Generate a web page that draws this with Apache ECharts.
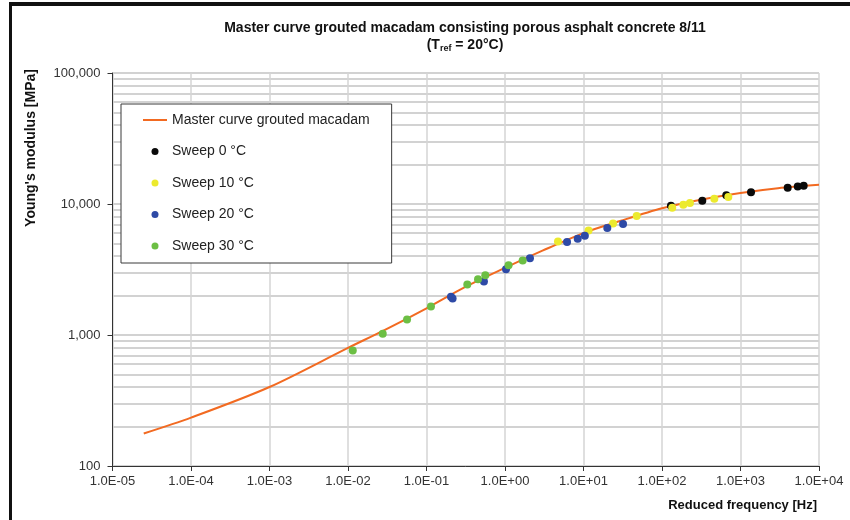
<!DOCTYPE html>
<html>
<head>
<meta charset="utf-8">
<script src="https://cdn.jsdelivr.net/npm/echarts@6/dist/echarts.min.js"></script>
<style>
  html, body { margin: 0; padding: 0; background: #fff; }
  #chart { width: 850px; height: 520px; }
</style>
</head>
<body>
<div id="chart"></div>
<script>
// master curve, reduced frequency [Hz] vs Young's modulus [MPa]
var curveFreq = [2.5e-5, 1e-4, 1e-3, 1e-2, 3e-2, 1e-1, 3e-1, 1, 3, 10, 30, 100, 300, 1000, 3000, 10000];
var curveModulus = [177, 234, 401, 798, 1100, 1600, 2300, 3250, 4400, 6000, 7450, 9270, 10740, 12130, 13190, 14000];

// measured sweeps (shifted to Tref = 20 °C)
var sweep0Freq = [130, 326, 659, 1361, 3990, 5358, 6383];
var sweep0Modulus = [9707, 10590, 11670, 12300, 13280, 13590, 13810];

var sweep10Freq = [4.73, 11.6, 23.8, 47.6, 135, 187, 227, 464, 700];
var sweep10Modulus = [5176, 6281, 7111, 8090, 9377, 9888, 10190, 10990, 11320];

var sweep20Freq = [0.205, 0.215, 0.539, 1.03, 2.08, 6.17, 8.44, 10.4, 20.1, 31.9];
var sweep20Modulus = [1960, 1900, 2559, 3176, 3855, 5117, 5420, 5717, 6546, 7031];

var sweep30Freq = [0.0115, 0.0277, 0.0565, 0.114, 0.331, 0.453, 0.561, 1.11, 1.68];
var sweep30Modulus = [761, 1021, 1315, 1652, 2427, 2661, 2857, 3413, 3707];

var seriesNames = ['Master curve grouted macadam', 'Sweep 0 °C', 'Sweep 10 °C', 'Sweep 20 °C', 'Sweep 30 °C'];

function pairs(xs, ys) {
  return xs.map(function (x, i) { return [x, ys[i]]; });
}

var font = 'Liberation Sans, Arial, sans-serif';
var orange = '#f26a21';

var chart = echarts.init(document.getElementById('chart'));

function scatter(name, xs, ys, color) {
  return {
    name: name,
    type: 'scatter',
    data: pairs(xs, ys),
    symbolSize: 8,
    itemStyle: { color: color, opacity: 1 },
    z: 3
  };
}

var option = {
  animation: false,
  backgroundColor: '#fff',
  title: {
    text: 'Master curve grouted macadam consisting porous asphalt concrete 8/11',
    subtext: '(T{sub|ref} = 20°C)',
    left: 465,
    top: 21,
    textAlign: 'center',
    padding: 0,
    itemGap: 3,
    textStyle: { fontFamily: font, fontSize: 14, fontWeight: 'bold', color: '#111' },
    subtextStyle: {
      fontFamily: font, fontSize: 14, fontWeight: 'bold', color: '#111',
      rich: {
        sub: { fontFamily: font, fontSize: 9, fontWeight: 'bold', color: '#111', padding: [6, 0, 0, 0] }
      }
    }
  },
  legend: {
    orient: 'vertical',
    left: 121,
    top: 104,
    data: [
      { name: seriesNames[0], icon: 'path://M0,0h24v2h-24z', itemStyle: { color: orange } },
      seriesNames[1], seriesNames[2], seriesNames[3], seriesNames[4]
    ],
    itemWidth: 24,
    itemHeight: 7,
    itemGap: 17.5,
    padding: [9, 22, 10, 22],
    backgroundColor: '#fff',
    borderColor: '#3a3a3a',
    borderWidth: 1,
    textStyle: { fontFamily: font, fontSize: 14, color: '#222' }
  },
  grid: {
    left: 112.5,
    right: 31,
    top: 73,
    bottom: 54
  },
  xAxis: {
    type: 'log',
    logBase: 10,
    min: 1e-5,
    max: 1e4,
    axisLine: { lineStyle: { color: '#333', width: 1 } },
    axisTick: { show: true, length: 5, lineStyle: { color: '#333' } },
    axisLabel: {
      fontFamily: font, fontSize: 13, color: '#333', margin: 9,
      formatter: function (v) {
        var e = Math.round(Math.log10(v));
        var a = Math.abs(e);
        return '1.0E' + (e < 0 ? '-' : '+') + (a < 10 ? '0' : '') + a;
      }
    },
    splitLine: { show: true, lineStyle: { color: '#d4d4d4', width: 1.5 } }
  },
  yAxis: {
    type: 'log',
    logBase: 10,
    min: 100,
    max: 100000,
    axisLine: { show: true, lineStyle: { color: '#333', width: 1 } },
    axisTick: { show: true, length: 5, lineStyle: { color: '#333' } },
    axisLabel: {
      fontFamily: font, fontSize: 13, color: '#333', margin: 12,
      formatter: function (v) { return Math.round(v).toLocaleString('en-US'); }
    },
    splitLine: { show: true, lineStyle: { color: '#d2d2d2', width: 2 } },
    minorTick: { show: false, splitNumber: 9 },
    minorSplitLine: { show: true, lineStyle: { color: '#d2d2d2', width: 2 } }
  },
  graphic: [
    { type: 'rect', shape: { x: 9, y: 2, width: 841, height: 4 }, style: { fill: '#111' } },
    { type: 'rect', shape: { x: 9, y: 2, width: 3, height: 518 }, style: { fill: '#111' } },
    {
      type: 'text', x: 31, y: 148, rotation: Math.PI / 2,
      style: { text: "Young's modulus [MPa]", fontFamily: font, fontSize: 14, fontWeight: 'bold', fill: '#111', align: 'center', verticalAlign: 'middle' }
    },
    {
      type: 'text', x: 817, y: 505,
      style: { text: 'Reduced frequency [Hz]', fontFamily: font, fontSize: 13, fontWeight: 'bold', fill: '#111', align: 'right', verticalAlign: 'middle' }
    }
  ],
  series: [
    {
      name: seriesNames[0],
      type: 'line',
      data: pairs(curveFreq, curveModulus),
      smooth: 0.3,
      symbol: 'none',
      lineStyle: { color: orange, width: 2 },
      itemStyle: { color: orange },
      z: 2
    },
    scatter(seriesNames[1], sweep0Freq, sweep0Modulus, '#0a0a0a'),
    scatter(seriesNames[2], sweep10Freq, sweep10Modulus, '#ecea2e'),
    scatter(seriesNames[3], sweep20Freq, sweep20Modulus, '#2e4aa6'),
    scatter(seriesNames[4], sweep30Freq, sweep30Modulus, '#6cbf44')
  ]
};

chart.setOption(option);
</script>
</body>
</html>
